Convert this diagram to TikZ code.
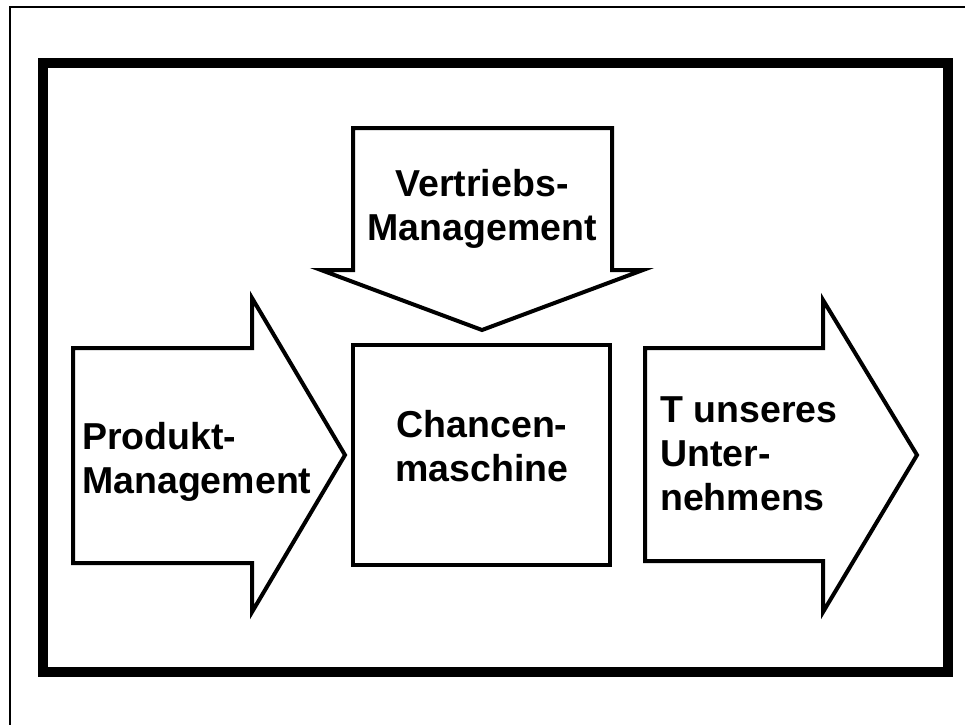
\documentclass[tikz,border=0pt]{standalone}
\usepackage{fontspec}
\setmainfont{Liberation Sans}
\begin{document}
\begin{tikzpicture}[x=1pt,y=-1pt,
  bigarrow/.style={draw=black,line width=4pt,fill=white,line join=miter},
  lbl/.style={font=\bfseries\fontsize{37.5}{44}\selectfont,inner sep=0pt}]
\useasboundingbox (0,0) rectangle (965,724);
% outer thin frame (extends beyond picture)
\draw[line width=2pt] (10,730) -- (10,7) -- (970,7);
% thick frame
\draw[line width=10pt] (43,63) rectangle (947.5,672);
% top arrow
\draw[bigarrow] (353,128) -- (612,128) -- (612,270) -- (643,270) -- (482,330) -- (321,270) -- (353,270) -- cycle;
\node[lbl,anchor=base,align=center] (vm) at (482,240) {Vertriebs-\\Management};
% left arrow
\draw[bigarrow] (73,348) -- (252,348) -- (252,298) -- (345,455) -- (252,612) -- (252,563) -- (73,563) -- cycle;
\node[lbl,anchor=base west,align=left] (pm) at (82,493) {Produkt-\\Management};
% center box
\draw[line width=3.5pt] (353,345) rectangle (610,565);
\node[lbl,anchor=base,align=center] (cm) at (482,481) {Chancen-\\maschine};
% right arrow
\draw[bigarrow] (645,348) -- (823,348) -- (823,300) -- (917,455) -- (823,612) -- (823,561) -- (645,561) -- cycle;
\node[lbl,anchor=base west,align=left] (tu) at (660,510) {T unseres\\Unter-\\nehmens};
\end{tikzpicture}
\end{document}
